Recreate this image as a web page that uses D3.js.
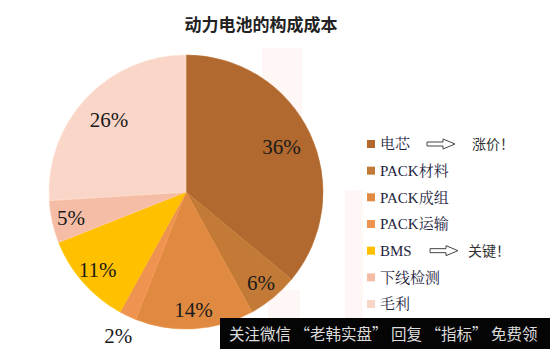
<!DOCTYPE html>
<html>
<head>
<meta charset="utf-8">
<script src="https://cdn.jsdelivr.net/npm/d3@7/dist/d3.min.js"></script>
<style>
  html, body { margin: 0; padding: 0; background: #fff; }
  svg { display: block; }
</style>
</head>
<body>
<svg id="chart" width="550" height="349"></svg>
<script>
// Cost breakdown of a power battery pack
const categories = ["电芯", "PACK材料", "PACK成组", "PACK运输", "BMS", "下线检测", "毛利"];
const shares = [36, 6, 14, 2, 11, 5, 26];
const colors = ["#B1692F", "#C47A37", "#E08A41", "#EE9350", "#FFC000", "#F5BDA6", "#F9D6C7"];
const notes = { "电芯": "涨价！", "BMS": "关键！" };
const titleText = "动力电池的构成成本";
const footerText = "关注微信 “老韩实盘” 回复 “指标” 免费领";

const svg = d3.select("#chart");
const cx = 186, cy = 192, r = 137;

// very faint pink background blotches
const blotches = [[262, 48, 40, 80], [268, 290, 32, 30], [345, 190, 18, 130]];
svg.selectAll("rect.bg").data(blotches).join("rect")
  .attr("class", "bg")
  .attr("x", d => d[0]).attr("y", d => d[1])
  .attr("width", d => d[2]).attr("height", d => d[3])
  .attr("fill", "#FEF7F6");

// title
svg.append("text")
  .attr("x", 261).attr("y", 31)
  .attr("text-anchor", "middle")
  .attr("font-family", "'Noto Sans CJK SC', sans-serif")
  .attr("font-weight", "bold")
  .attr("font-size", 17)
  .attr("fill", "#222")
  .text(titleText);

const data = categories.map((c, i) => ({ name: c, value: shares[i], color: colors[i] }));
const pie = d3.pie().sort(null).value(d => d.value);
const arcs = pie(data);
const arc = d3.arc().innerRadius(0).outerRadius(r);

const g = svg.append("g").attr("transform", `translate(${cx},${cy})`);
g.selectAll("path").data(arcs).join("path")
  .attr("d", arc)
  .attr("fill", d => d.data.color)
  .attr("stroke", d => d3.color(d.data.color).brighter(0.15))
  .attr("stroke-width", 0.6);

// percentage labels: tiny slices sit outside the pie
const labelRadius = d => d.data.value <= 3 ? r * 1.16 : (d.data.value >= 20 ? r * 0.77 : r * 0.86);
g.selectAll("text.pct").data(arcs).join("text")
  .attr("class", "pct")
  .attr("transform", d => {
    const a = (d.startAngle + d.endAngle) / 2;
    const rr = labelRadius(d);
    return `translate(${Math.sin(a) * rr},${-Math.cos(a) * rr})`;
  })
  .attr("text-anchor", "middle")
  .attr("dy", "0.35em")
  .attr("font-family", "'Liberation Serif', 'Times New Roman', serif")
  .attr("font-size", 21)
  .attr("fill", "#1a1a1a")
  .text(d => d.data.value + "%");

// legend
const legendY = d3.scalePoint().domain(categories).range([144, 304]);
const lg = svg.append("g");
const items = lg.selectAll("g").data(data).join("g")
  .attr("transform", d => `translate(367,${legendY(d.name)})`);
items.append("rect")
  .attr("x", 0).attr("y", -4).attr("width", 8).attr("height", 8)
  .attr("fill", d => d.color);
items.append("text")
  .attr("x", 13).attr("dy", "0.36em")
  .attr("font-family", "'Liberation Serif', 'Noto Serif CJK SC', serif")
  .attr("font-size", 15)
  .attr("fill", "#1E2440")
  .text(d => d.name);

// hollow arrows with notes
const noted = data.filter(d => notes[d.name]);
const ag = svg.selectAll("g.note").data(noted).join("g")
  .attr("class", "note")
  .attr("transform", d => `translate(${d.name === "BMS" ? 430 : 427},${legendY(d.name)})`);
ag.append("path")
  .attr("d", "M0,-2 L16,-2 L16,-5 L28,0 L16,5 L16,2 L0,2 Z")
  .attr("fill", "none")
  .attr("stroke", "#444")
  .attr("stroke-width", 1);
ag.append("text")
  .attr("x", d => d.name === "BMS" ? 38 : 45)
  .attr("dy", "0.36em")
  .attr("font-family", "'Noto Sans CJK SC', sans-serif")
  .attr("font-size", 14)
  .attr("fill", "#333")
  .text(d => notes[d.name]);

// footer banner
svg.append("rect")
  .attr("x", 220).attr("y", 318).attr("width", 330).attr("height", 31)
  .attr("fill", "#050505");
svg.append("text")
  .attr("x", 229).attr("y", 340)
  .attr("font-family", "'Noto Sans CJK SC', sans-serif")
  .attr("font-size", 15.5)
  .attr("fill", "#dcdcdc")
  .text(footerText);
</script>
</body>
</html>
